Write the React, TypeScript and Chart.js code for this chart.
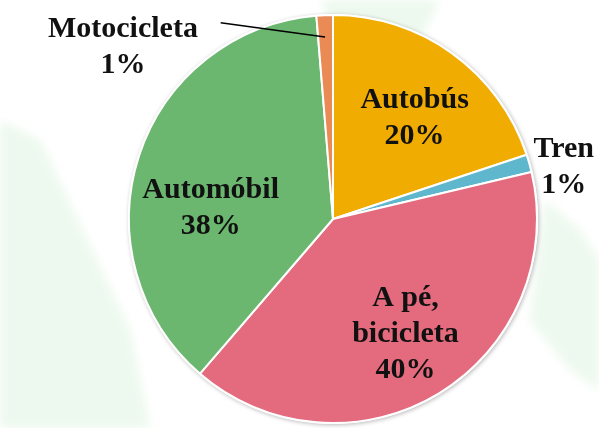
import React, { useEffect, useRef } from "react";
import { Chart, registerables } from "chart.js";

Chart.register(...registerables);

// ---- data ----
const categories = ["Autobús", "Tren", "A pé, bicicleta", "Automóbil", "Motocicleta"];
const shares = [19.9, 1.4, 40.0, 37.4, 1.3];
const labelLines = [
  ["Autobús", "20%"],
  ["Tren", "1%"],
  ["A pé,", "bicicleta", "40%"],
  ["Automóbil", "38%"],
  ["Motocicleta", "1%"],
];
const sliceColors = ["#F0AC00", "#5FB7CE", "#E46A7D", "#6BB76F", "#EA8A55"];

// label anchor placement: angle (deg, clockwise from 12 o'clock) and radius as fraction of pie radius
const labelAngle = [41.4, 79.1, 149.5, 271.4, 307.9];
const labelRadius = [0.605, 1.152, 0.7, 0.6, 1.305];
// leader line for Motocicleta: from [angle, frac] to [angle, frac]
const leaderFrom = [330.2, 1.108];
const leaderTo = [357.5, 0.893];

const FONT_SIZE = 30;
const LINE_H = 36;

function polar(cx: number, cy: number, r: number, deg: number, frac: number) {
  const a = (deg * Math.PI) / 180;
  return { x: cx + Math.sin(a) * r * frac, y: cy - Math.cos(a) * r * frac };
}

const labelPlugin = {
  id: "sliceLabels",
  beforeDatasetsDraw(chart: any) {
    const meta = chart.getDatasetMeta(0);
    const arc = meta.data[0];
    if (!arc) return;
    const { x, y, outerRadius } = arc.getProps(["x", "y", "outerRadius"], true);
    const ctx = chart.ctx;
    ctx.save();
    ctx.shadowColor = "rgba(0,0,0,0.28)";
    ctx.shadowBlur = 4;
    ctx.shadowOffsetX = 1;
    ctx.shadowOffsetY = 1;
    ctx.beginPath();
    ctx.arc(x, y, outerRadius + 1, 0, Math.PI * 2);
    ctx.fillStyle = "#ffffff";
    ctx.fill();
    ctx.restore();
  },
  afterDatasetsDraw(chart: any) {
    const meta = chart.getDatasetMeta(0);
    const arc = meta.data[0];
    if (!arc) return;
    const { x, y, outerRadius } = arc.getProps(["x", "y", "outerRadius"], true);
    const ctx = chart.ctx;
    ctx.save();
    ctx.font = `bold ${FONT_SIZE}px "Liberation Serif", "Times New Roman", serif`;
    ctx.fillStyle = "#111111";
    ctx.textAlign = "center";
    ctx.textBaseline = "alphabetic";
    labelLines.forEach((lines, i) => {
      const p = polar(x, y, outerRadius, labelAngle[i], labelRadius[i]);
      const n = lines.length;
      lines.forEach((t, j) => {
        const by = p.y + (j - (n - 1) / 2) * LINE_H;
        ctx.fillText(t, p.x, by);
      });
    });
    const a = polar(x, y, outerRadius, leaderFrom[0], leaderFrom[1]);
    const b = polar(x, y, outerRadius, leaderTo[0], leaderTo[1]);
    ctx.beginPath();
    ctx.moveTo(a.x, a.y);
    ctx.lineTo(b.x, b.y);
    ctx.strokeStyle = "#000000";
    ctx.lineWidth = 1.5;
    ctx.stroke();
    ctx.restore();
  },
};

function BgShape({ clip }: { clip: string }) {
  return (
    <div style={{ position: "absolute", left: 0, top: 0, width: 599, height: 428, filter: "blur(5px)" }}>
      <div style={{ position: "absolute", left: 0, top: 0, width: 599, height: 428, background: "#EDF9EE", clipPath: clip }} />
    </div>
  );
}

export default function App() {
  const ref = useRef<HTMLCanvasElement | null>(null);
  useEffect(() => {
    if (!ref.current) return;
    const chart = new Chart(ref.current, {
      type: "pie",
      data: {
        labels: categories,
        datasets: [
          {
            data: shares,
            backgroundColor: sliceColors,
            borderColor: "#ffffff",
            borderWidth: 2,
          },
        ],
      },
      options: {
        responsive: false,
        animation: false,
        layout: { padding: { left: 128, right: 61, top: 14, bottom: 4 } },
        plugins: {
          legend: { display: false },
          tooltip: { enabled: false },
        },
      },
      plugins: [labelPlugin],
    });
    return () => chart.destroy();
  }, []);
  return (
    <div style={{ position: "absolute", left: 0, top: 0, width: 599, height: 428, background: "#ffffff", overflow: "hidden" }}>
      <BgShape clip="polygon(0px 120px, 40px 140px, 130px 330px, 150px 428px, 0px 428px)" />
      <BgShape clip="polygon(545px 200px, 580px 230px, 599px 260px, 599px 390px, 570px 370px, 530px 320px)" />
      <BgShape clip="polygon(320px 0px, 440px 0px, 420px 40px, 340px 40px)" />
      <canvas ref={ref} width={599} height={428} style={{ position: "absolute", left: 0, top: 0 }} />
    </div>
  );
}
